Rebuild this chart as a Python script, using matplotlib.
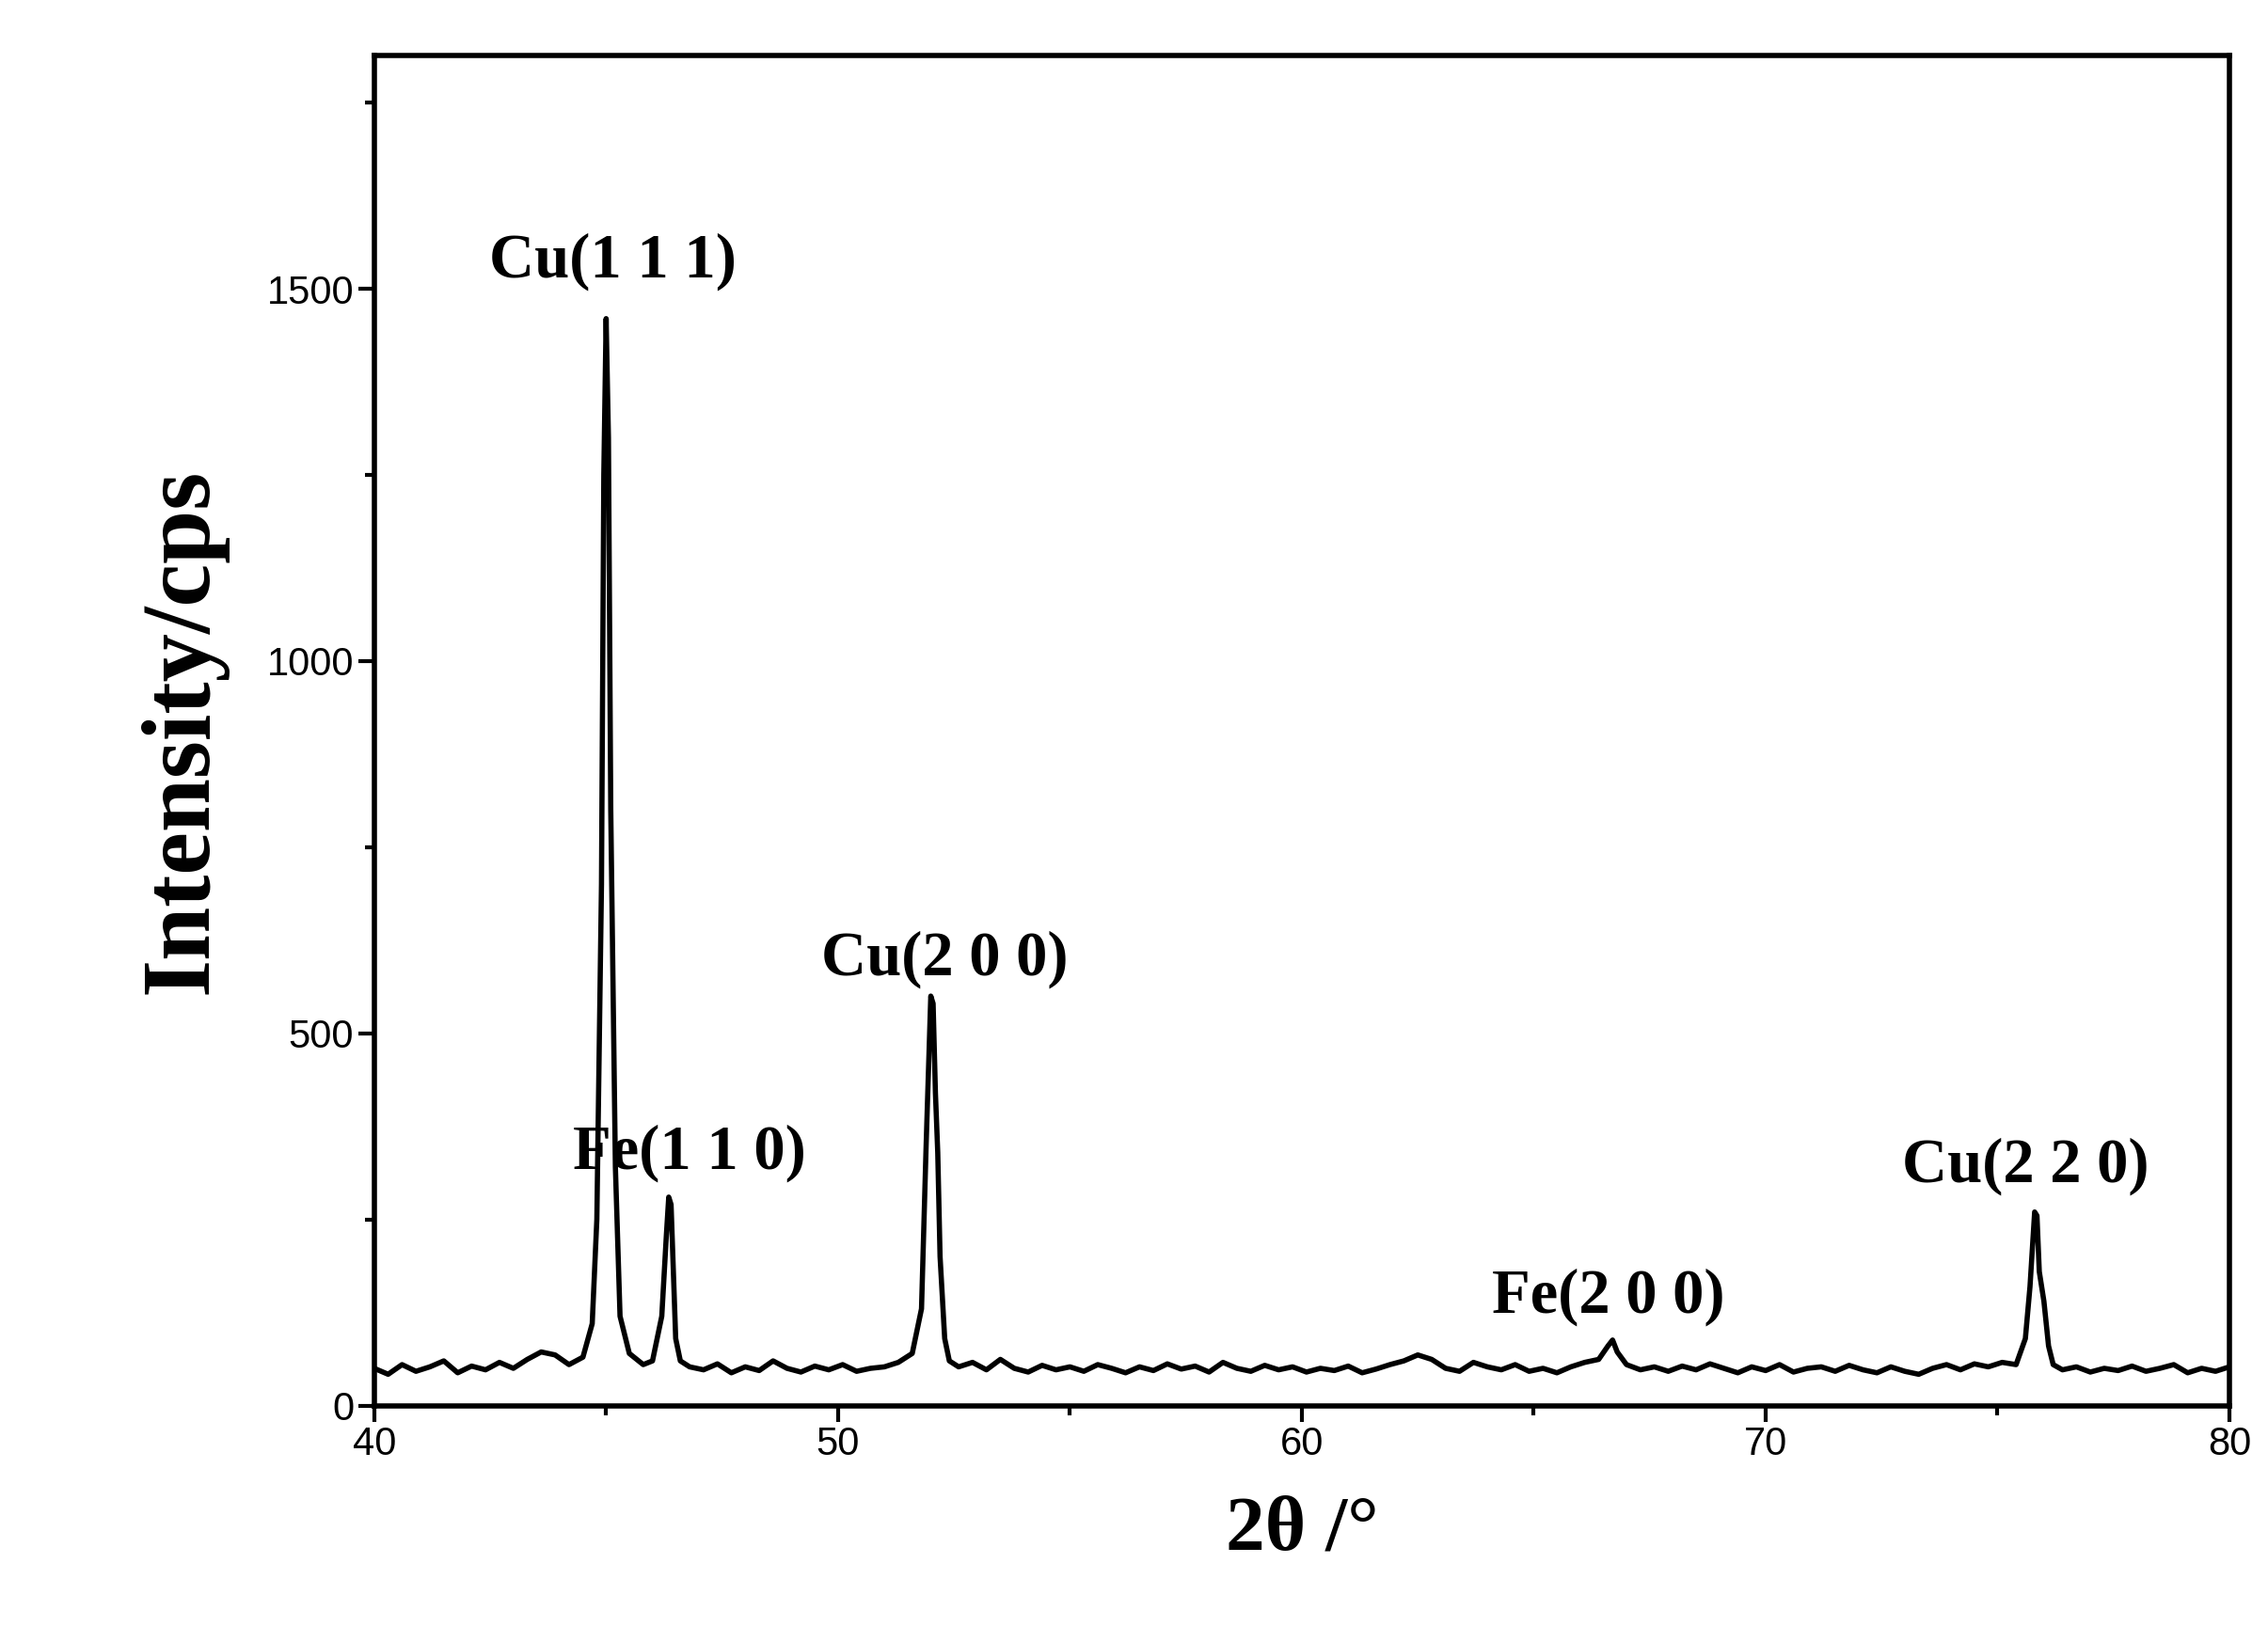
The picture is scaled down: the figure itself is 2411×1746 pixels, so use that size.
import numpy as np
import matplotlib.pyplot as plt
from matplotlib.ticker import MultipleLocator

# XRD pattern, values
two_theta = [40.0, 40.3, 40.6, 40.9, 41.2, 41.5, 41.8, 42.1, 42.4, 42.7, 43.0, 43.3, 43.6, 43.9, 44.2,
             44.5, 44.7, 44.8, 44.9, 44.95, 45.0, 45.05, 45.1, 45.2, 45.3, 45.5, 45.8, 46.0, 46.2,
             46.3, 46.35, 46.4, 46.45, 46.5, 46.6, 46.8, 47.1, 47.4, 47.7, 48.0, 48.3, 48.6, 48.9,
             49.2, 49.5, 49.8, 50.1, 50.4, 50.7, 51.0, 51.3, 51.6, 51.8, 51.9, 52.0, 52.05, 52.1,
             52.15, 52.2, 52.3, 52.4, 52.6, 52.9, 53.2, 53.5, 53.8, 54.1, 54.4, 54.7, 55.0, 55.3,
             55.6, 55.9, 56.2, 56.5, 56.8, 57.1, 57.4, 57.7, 58.0, 58.3, 58.6, 58.9, 59.2, 59.5,
             59.8, 60.1, 60.4, 60.7, 61.0, 61.3, 61.6, 61.9, 62.2, 62.5, 62.8, 63.1, 63.4, 63.7,
             64.0, 64.3, 64.6, 64.9, 65.2, 65.5, 65.8, 66.1, 66.4, 66.6, 66.7, 66.8, 67.0, 67.3,
             67.6, 67.9, 68.2, 68.5, 68.8, 69.1, 69.4, 69.7, 70.0, 70.3, 70.6, 70.9, 71.2, 71.5,
             71.8, 72.1, 72.4, 72.7, 73.0, 73.3, 73.6, 73.9, 74.2, 74.5, 74.8, 75.1, 75.4, 75.6,
             75.7, 75.8, 75.85, 75.9, 76.0, 76.1, 76.2, 76.4, 76.7, 77.0, 77.3, 77.6, 77.9, 78.2,
             78.5, 78.8, 79.1, 79.4, 79.7, 80.0]
intensity = [50, 42, 55, 46, 52, 60, 44, 53, 48, 58, 50, 62, 72, 68, 55,
             65, 110, 250, 700, 1250, 1460, 1300, 800, 320, 120, 70, 55, 60, 120,
             230, 280, 270, 180, 90, 60, 52, 48, 56, 44, 52, 47, 60, 50,
             45, 53, 48, 55, 46, 50, 52, 58, 70, 130, 350, 550, 540, 420,
             340, 200, 90, 60, 52, 58, 48, 62, 50, 45, 54, 48, 52, 46,
             55, 50, 44, 52, 47, 56, 49, 53, 45, 58, 50, 46, 54, 48,
             52, 45, 50, 47, 53, 44, 49, 55, 60, 68, 62, 50, 46, 58,
             52, 48, 55, 46, 50, 44, 52, 58, 62, 80, 88, 72, 55, 48,
             52, 46, 53, 48, 56, 50, 44, 52, 47, 55, 45, 50, 52, 46,
             54, 48, 44, 52, 46, 42, 50, 55, 48, 56, 52, 58, 55, 90,
             160, 260, 255, 180, 140, 80, 55, 48, 52, 45, 50, 47, 53, 46,
             50, 55, 44, 50, 46, 52]

labels = ['Cu(1 1 1)', 'Fe(1 1 0)', 'Cu(2 0 0)', 'Fe(2 0 0)', 'Cu(2 2 0)']
label_x = [45.15, 46.8, 52.3, 66.6, 75.6]
label_y = [1498, 300, 560, 107, 282]

fig = plt.figure(figsize=(24.11, 17.46), dpi=100)
ax = fig.add_axes([0.165, 0.144, 0.818, 0.822])
ax.plot(two_theta, intensity, color='black', lw=4)

for t, x, y in zip(labels, label_x, label_y):
	ax.text(x, y, t, ha='center', va='bottom', fontsize=48, fontweight='bold', family='Liberation Serif')

ax.set_xlim(40, 80)
ax.set_ylim(0, 1813)
ax.xaxis.set_major_locator(MultipleLocator(10))
ax.xaxis.set_minor_locator(MultipleLocator(5))
ax.yaxis.set_major_locator(MultipleLocator(500))
ax.yaxis.set_minor_locator(MultipleLocator(250))
ax.tick_params(which='both', direction='out', width=3, labelsize=30)
ax.tick_params(which='major', length=12)
ax.tick_params(which='minor', length=7)
for lab in ax.get_xticklabels() + ax.get_yticklabels():
	lab.set_family('Liberation Sans')
for s in ax.spines.values():
	s.set_linewidth(4)

ax.set_xlabel('2θ /°', fontsize=60, fontweight='bold', family='Liberation Serif', labelpad=25)
ax.set_ylabel('Intensity/cps', fontsize=74, fontweight='bold', family='Liberation Serif', labelpad=30)

fig.savefig('out.png', dpi=100, facecolor='white')
